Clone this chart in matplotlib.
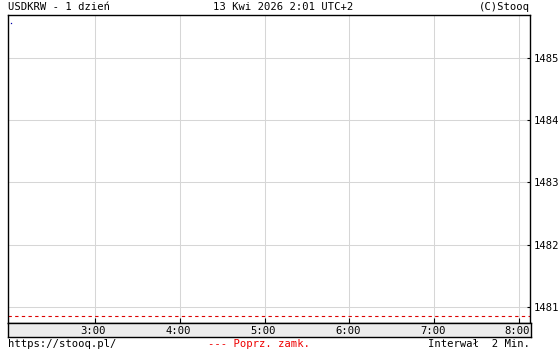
import matplotlib
matplotlib.use("Agg")
import matplotlib.pyplot as plt

# ---- data ----
times = ["2:01"]
prices = [1485.57]
prev_close = 1480.85
x_ticks = ["3:00", "4:00", "5:00", "6:00", "7:00", "8:00"]
y_ticks = [1481, 1482, 1483, 1484, 1485]
x_range = (1.983, 8.126)
y_range = (1480.73, 1485.70)
title_left = "USDKRW - 1 dzień"
title_mid = "13 Kwi 2026 2:01 UTC+2"
title_right = "(C)Stooq"
foot_left = "https://stooq.pl/"
foot_mid = "--- Poprz. zamk."
foot_right = "Interwał  2 Min."


def to_h(s):
    h, m = s.split(":")
    return int(h) + int(m) / 60.0


W, H = 560, 350
FONT = "DejaVu Sans Mono"
FS = 7.6
fig = plt.figure(figsize=(W / 100, H / 100), dpi=100)
fig.patch.set_facecolor("white")

L, R, T, B = 8.3, 530.0, 15.0, 323.3
ax = fig.add_axes([L / W, 1 - B / H, (R - L) / W, (B - T) / H])
ax.set_xlim(*x_range)
ax.set_ylim(*y_range)
ax.set_facecolor("white")

xt = [to_h(s) for s in x_ticks]
ax.set_xticks(xt)
ax.set_xticklabels([])
ax.set_yticks(y_ticks)
ax.set_yticklabels([str(v) for v in y_ticks], fontfamily=FONT, fontsize=FS)
ax.yaxis.tick_right()
ax.tick_params(axis="y", direction="in", length=2.4, width=0.8, pad=3, colors="black")
ax.tick_params(axis="x", direction="in", length=3.6, width=0.8, top=False)
ax.grid(True, color="#d6d6d6", linewidth=0.75)
ax.set_axisbelow(True)
for sp in ax.spines.values():
    sp.set_linewidth(1.0)
    sp.set_color("black")

ax.axhline(prev_close, color="#dd0000", linestyle=(0, (3, 3)), linewidth=0.8)
ax.plot([to_h(t) for t in times], prices, linestyle="none", marker="s",
        markersize=0.9, color="#0000aa", markeredgewidth=0)

# x label band
BB = 336.5
bx = fig.add_axes([L / W, 1 - BB / H, (R + 1 - L) / W, (BB - B) / H])
bx.set_xlim(x_range[0], x_range[1] + (x_range[1] - x_range[0]) / (R - L))
bx.set_ylim(0, 1)
bx.set_facecolor("#ececec")
bx.set_xticks([])
bx.set_yticks([])
for sp in bx.spines.values():
    sp.set_linewidth(1.0)
    sp.set_color("black")
for v, s in zip(xt, x_ticks):
    bx.text(v - 0.02, 0.45, s, ha="center", va="center", fontfamily=FONT, fontsize=FS)

# header and footer
ty = 1 - 7.5 / H
fig.text(L / W, ty, title_left, ha="left", va="center", fontfamily=FONT, fontsize=FS)
fig.text(283 / W, ty, title_mid, ha="center", va="center", fontfamily=FONT, fontsize=FS)
fig.text(R / W, ty, title_right, ha="right", va="center", fontfamily=FONT, fontsize=FS)
fy = 1 - 344 / H
fig.text(L / W, fy, foot_left, ha="left", va="center", fontfamily=FONT, fontsize=FS)
fig.text(259 / W, fy, foot_mid, ha="center", va="center", fontfamily=FONT, fontsize=FS, color="#ee0000")
fig.text(R / W, fy, foot_right, ha="right", va="center", fontfamily=FONT, fontsize=FS)

fig.savefig("out.png", dpi=100)
